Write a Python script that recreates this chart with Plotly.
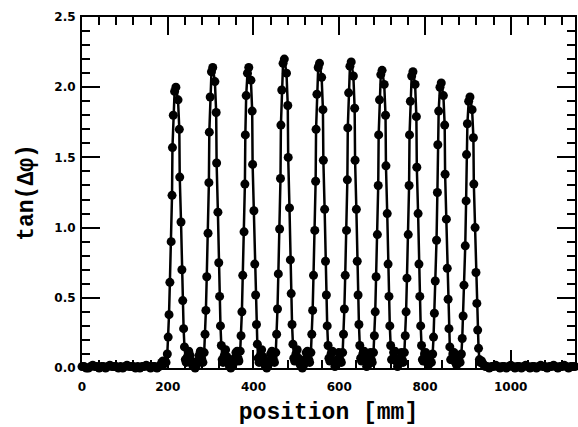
import plotly.graph_objects as go

# ---- data ----
base_left_x = [0, 5, 10, 15, 20, 25, 30, 35, 40, 45, 50, 55, 60, 65, 70, 75, 80, 85,
               90, 95, 100, 105, 110, 115, 120, 125, 130, 135, 140, 145, 150, 155,
               160, 165, 170, 175]
base_left_y = [0.01, 0.01, 0.00, 0.00, 0.01, 0.02, 0.01, 0.01, 0.00, 0.01, 0.01, 0.00,
               0.01, 0.02, 0.01, 0.01, 0.01, 0.00, 0.01, 0.00, 0.01, 0.02, 0.01, 0.01,
               0.01, 0.00, 0.01, 0.00, 0.01, 0.01, 0.02, 0.01, 0.00, 0.01, 0.01, 0.00]

scan_x = [
    180, 183, 186, 189, 192,
    196, 199, 201, 203, 205, 208, 210, 211, 213, 216, 219,
    224, 227, 228, 231, 233, 235, 237, 239, 241,
    243, 246, 249, 252, 255, 258, 261, 264, 267, 270, 273, 276, 279,
    282, 285, 287, 289, 291, 294, 296, 297, 299, 302, 305,
    310, 313, 314, 317, 319, 321, 323, 325, 327,
    329, 332, 335, 338, 341, 344, 347, 350, 353, 356, 359, 362, 364,
    366, 369, 371, 373, 375, 378, 380, 381, 383, 386, 389,
    394, 397, 398, 401, 403, 405, 407, 409, 411,
    413, 416, 419, 422, 425, 428, 431, 434, 437, 440, 443, 446,
    449, 452, 454, 456, 458, 461, 463, 464, 466, 469, 472,
    477, 480, 481, 484, 486, 488, 490, 492, 494,
    496, 499, 502, 505, 508, 511, 514, 517, 520, 523, 526, 529,
    531, 534, 536, 538, 540, 543, 545, 546, 548, 551, 554,
    559, 562, 563, 566, 568, 570, 572, 574, 576,
    578, 581, 584, 587, 590, 593, 596, 599, 602,
    605, 608, 610, 612, 614, 617, 619, 620, 622, 625, 628,
    633, 636, 637, 640, 642, 644, 646, 648, 650,
    652, 655, 658, 661, 664, 667, 670, 673, 675,
    677, 680, 682, 684, 686, 689, 691, 692, 694, 697, 700,
    705, 708, 709, 712, 714, 716, 718, 720, 722,
    724, 727, 730, 733, 736, 739, 742, 745, 747,
    749, 752, 754, 756, 758, 761, 763, 764, 766, 769, 772,
    777, 780, 781, 784, 786, 788, 790, 792, 794,
    796, 799, 802, 805, 808, 811, 813,
    815, 818, 820, 822, 824, 827, 829, 830, 832, 835, 838,
    843, 846, 847, 850, 852, 854, 856, 858, 860,
    862, 865, 868, 871, 874, 877, 880,
    882, 885, 887, 889, 891, 894, 896, 897, 899, 902, 905,
    910, 913, 914, 917, 919, 921, 923, 925, 927,
    929, 932, 935, 938, 941,
]
scan_y = [
    0.01, 0.02, 0.04, 0.05, 0.03,
    0.04, 0.10, 0.22, 0.38, 0.61, 0.90, 1.23, 1.57, 1.80, 1.97, 2.00,
    1.91, 1.70, 1.36, 1.04, 0.70, 0.48, 0.28, 0.15, 0.06,
    0.04, 0.08, 0.12, 0.09, 0.05, 0.02, 0.01, 0.00, 0.02, 0.05, 0.09, 0.12, 0.07,
    0.04, 0.11, 0.24, 0.41, 0.65, 0.96, 1.32, 1.68, 1.93, 2.11, 2.14,
    2.04, 1.82, 1.46, 1.11, 0.75, 0.51, 0.30, 0.16, 0.06,
    0.04, 0.09, 0.13, 0.08, 0.04, 0.01, 0.00, 0.01, 0.03, 0.07, 0.11, 0.12, 0.07,
    0.05, 0.12, 0.23, 0.40, 0.66, 0.97, 1.31, 1.66, 1.94, 2.10, 2.14,
    2.05, 1.83, 1.45, 1.12, 0.74, 0.52, 0.31, 0.17, 0.07,
    0.04, 0.09, 0.13, 0.08, 0.03, 0.01, 0.00, 0.02, 0.05, 0.10, 0.12, 0.07,
    0.04, 0.11, 0.24, 0.42, 0.67, 0.99, 1.35, 1.73, 1.98, 2.17, 2.20,
    2.10, 1.87, 1.50, 1.14, 0.77, 0.53, 0.31, 0.17, 0.07,
    0.05, 0.10, 0.13, 0.07, 0.03, 0.01, 0.00, 0.02, 0.06, 0.11, 0.12, 0.06,
    0.04, 0.11, 0.24, 0.41, 0.66, 0.98, 1.33, 1.70, 1.95, 2.14, 2.17,
    2.07, 1.84, 1.48, 1.13, 0.76, 0.52, 0.30, 0.16, 0.07,
    0.05, 0.10, 0.12, 0.05, 0.01, 0.02, 0.06, 0.11, 0.06,
    0.04, 0.11, 0.24, 0.42, 0.66, 0.98, 1.34, 1.71, 1.96, 2.15, 2.18,
    2.08, 1.85, 1.48, 1.13, 0.76, 0.52, 0.31, 0.16, 0.07,
    0.05, 0.10, 0.12, 0.05, 0.01, 0.02, 0.07, 0.11, 0.06,
    0.04, 0.11, 0.23, 0.40, 0.65, 0.95, 1.30, 1.66, 1.91, 2.09, 2.12,
    2.02, 1.80, 1.44, 1.10, 0.74, 0.51, 0.30, 0.16, 0.06,
    0.06, 0.11, 0.12, 0.05, 0.01, 0.03, 0.07, 0.11, 0.06,
    0.04, 0.11, 0.23, 0.40, 0.64, 0.95, 1.30, 1.66, 1.90, 2.08, 2.11,
    2.02, 1.79, 1.43, 1.10, 0.74, 0.51, 0.30, 0.16, 0.06,
    0.05, 0.10, 0.11, 0.04, 0.02, 0.07, 0.09,
    0.04, 0.10, 0.22, 0.39, 0.62, 0.91, 1.25, 1.59, 1.83, 2.00, 2.03,
    1.94, 1.73, 1.38, 1.06, 0.71, 0.49, 0.28, 0.15, 0.06,
    0.06, 0.10, 0.11, 0.04, 0.02, 0.06, 0.08,
    0.04, 0.10, 0.21, 0.37, 0.59, 0.87, 1.19, 1.52, 1.74, 1.90, 1.93,
    1.84, 1.64, 1.31, 1.00, 0.68, 0.46, 0.27, 0.14, 0.06,
    0.04, 0.05, 0.03, 0.02, 0.01,
]

base_right_x = [945, 950, 955, 960, 965, 970, 975, 980, 985, 990, 995, 1000, 1005,
                1010, 1015, 1020, 1025, 1030, 1035, 1040, 1045, 1050, 1055, 1060,
                1065, 1070, 1075, 1080, 1085, 1090, 1095, 1100, 1105, 1110, 1115,
                1120, 1125, 1130, 1135, 1140, 1145, 1150]
base_right_y = [0.01, 0.00, 0.01, 0.01, 0.02, 0.01, 0.00, 0.01, 0.01, 0.00, 0.01, 0.02,
                0.01, 0.00, 0.01, 0.01, 0.00, 0.01, 0.02, 0.01, 0.00, 0.01, 0.01, 0.00,
                0.01, 0.02, 0.01, 0.01, 0.00, 0.01, 0.01, 0.02, 0.01, 0.00, 0.01, 0.01,
                0.02, 0.01, 0.00, 0.01, 0.01, 0.01]

x_ticks = [0, 200, 400, 600, 800, 1000]
y_ticks = [0.0, 0.5, 1.0, 1.5, 2.0, 2.5]

position = base_left_x + scan_x + base_right_x
tan_dphi = base_left_y + scan_y + base_right_y

fig = go.Figure()
fig.add_trace(go.Scatter(
    x=position, y=tan_dphi, mode="lines+markers",
    line=dict(color="black", width=2.5),
    marker=dict(color="black", size=9, symbol="circle"),
    cliponaxis=False, showlegend=False,
))

tick_font = dict(family="DejaVu Sans", size=12, color="black", weight="bold")
title_font = dict(family="Liberation Mono", size=23, color="black", weight="bold")

axis_common = dict(
    showline=True, linecolor="black", linewidth=2, mirror="allticks",
    ticks="inside", ticklen=18, tickwidth=2, tickcolor="black",
    showgrid=False, zeroline=False, tickfont=tick_font, automargin=False,
)

fig.update_xaxes(
    range=[0, 1150], tickvals=x_ticks, ticktext=[str(v) for v in x_ticks],
    minor=dict(ticks="inside", ticklen=8, tickwidth=2, tickcolor="black", dtick=40, tick0=0),
    title=dict(text="position [mm]", font=title_font, standoff=9),
    ticklabelstandoff=7,
    **axis_common,
)
fig.update_yaxes(
    range=[0, 2.5], tickvals=y_ticks, ticktext=[f"{v:.1f}" for v in y_ticks],
    minor=dict(ticks="inside", ticklen=8, tickwidth=2, tickcolor="black", dtick=0.1, tick0=0),
    title=dict(text="tan(Δφ)", font=title_font, standoff=14),
    ticklabelstandoff=2,
    **axis_common,
)

fig.update_layout(
    width=578, height=427,
    margin=dict(l=82, r=3, t=17, b=59),
    plot_bgcolor="white", paper_bgcolor="white",
)

fig.write_html(
    "out.html",
    config={"displayModeBar": False},
    post_script="document.body.style.margin='0';document.body.style.overflow='hidden';",
)
